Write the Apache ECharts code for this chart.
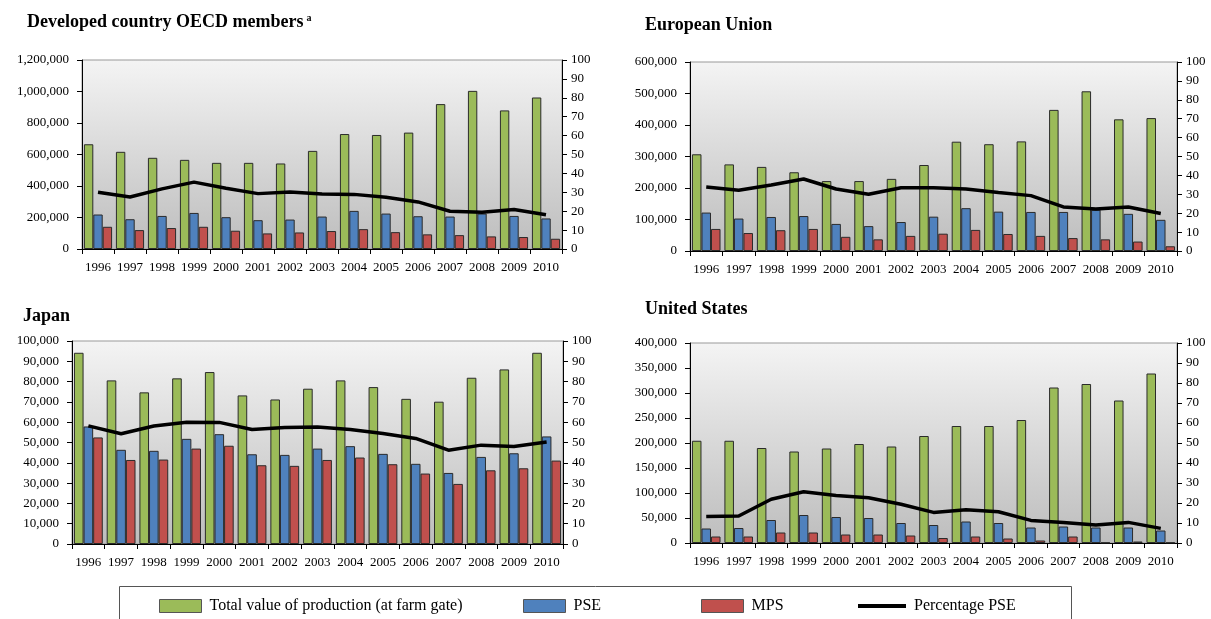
<!DOCTYPE html>
<html>
<head>
<meta charset="utf-8">
<script src="https://cdn.jsdelivr.net/npm/echarts@6/dist/echarts.min.js"></script>
<style>
html,body{margin:0;padding:0;background:#fff;}
#c{width:1211px;height:619px;}
</style>
</head>
<body>
<div id="c"></div>
<script>
const years = ['1996','1997','1998','1999','2000','2001','2002','2003','2004','2005','2006','2007','2008','2009','2010'];

const oecdTotal = [665000,617000,579000,566000,547000,547000,543000,623000,730000,724000,739000,920000,1004000,880000,962000];
const oecdPSE   = [219000,189000,210000,229000,202000,183000,187000,206000,242000,225000,208000,206000,225000,210000,194000];
const oecdMPS   = [141000,120000,133000,141000,116000,99000,105000,114000,126000,107000,93000,88000,80000,76000,65000];
const oecdPct   = [30.0,27.5,31.8,35.4,32.1,29.3,30.2,29.1,28.9,27.4,24.9,20.0,19.5,20.9,18.1];

const euTotal = [307000,275000,267000,250000,222000,222000,229000,273000,347000,339000,348000,448000,507000,418000,422000];
const euPSE   = [122000,103000,108000,111000,86000,79000,92000,109000,136000,125000,124000,124000,131000,118000,99000];
const euMPS   = [70000,57000,66000,70000,45000,37000,48000,55000,67000,54000,48000,41000,37000,30000,15000];
const euPct   = [33.9,32.1,34.9,38.1,32.8,30.0,33.5,33.5,32.8,31.0,29.3,23.3,22.2,23.3,19.8];

const jpTotal = [94200,80600,74700,81600,84700,73200,71200,76500,80600,77300,71500,70100,81900,86000,94200];
const jpPSE   = [57900,46400,45900,51800,54100,44200,43900,47000,48200,44400,39500,35000,42900,44700,53000];
const jpMPS   = [52500,41400,41600,47000,48400,38800,38500,41400,42600,39300,34700,29600,36300,37300,41100];
const jpPct   = [58.2,54.3,58.1,60.0,59.9,56.4,57.4,57.6,56.4,54.4,52.0,46.2,48.7,48.0,50.2];

const usTotal = [204500,204500,190000,183000,189000,198000,193000,214000,234000,234000,246000,311000,318000,285000,339000];
const usPSE   = [29000,30000,46000,56000,52000,50000,40000,36000,43000,40000,31000,33000,31000,31000,25000];
const usMPS   = [13000,13000,21000,21000,17000,17000,15000,10000,13000,9000,5000,13000,1000,3000,1000];
const usPct   = [13.3,13.5,21.9,25.6,23.8,22.6,19.4,15.3,16.6,15.6,11.3,10.3,9.0,10.3,7.3];

const titles = ['Developed country OECD members', 'European Union', 'Japan', 'United States'];
const leftMax = [1200000, 600000, 100000, 400000];
const leftInterval = [200000, 100000, 10000, 50000];
const seriesNames = ['Total value of production (at farm gate)', 'PSE', 'MPS', 'Percentage PSE'];

const panels = [
  {total: oecdTotal, pse: oecdPSE, mps: oecdMPS, pct: oecdPct},
  {total: euTotal, pse: euPSE, mps: euMPS, pct: euPct},
  {total: jpTotal, pse: jpPSE, mps: jpMPS, pct: jpPct},
  {total: usTotal, pse: usPSE, mps: usMPS, pct: usPct}
];

const gridPos = [
  {left: 82, top: 60, width: 480, height: 189},
  {left: 690, top: 62, width: 487, height: 189},
  {left: 72, top: 341, width: 491, height: 203},
  {left: 690, top: 343, width: 487, height: 200}
];
const titlePos = [
  {left: 22, top: 8},
  {left: 640, top: 11},
  {left: 18, top: 302},
  {left: 640, top: 295}
];

const FONT = '"Liberation Serif", "Times New Roman", serif';
const colors = {green: '#9BBB59', blue: '#4F81BD', red: '#C0504D'};
const bgGrad = {type: 'linear', x: 0, y: 0, x2: 0, y2: 1, colorStops: [{offset: 0, color: '#f4f4f4'}, {offset: 1, color: '#bdbdbd'}]};

const fmt = v => Number(v).toLocaleString('en-US');

const grid = [], xAxis = [], yAxis = [], series = [], title = [];
panels.forEach((p, i) => {
  grid.push(Object.assign({show: true, backgroundColor: bgGrad, borderColor: '#999', borderWidth: 1, containLabel: false}, gridPos[i]));
  title.push(Object.assign({
    text: titles[i] + (i === 0 ? '{sup|a}' : ''),
    textStyle: {fontFamily: FONT, fontWeight: 'bold', fontSize: 18, color: '#000',
      rich: {sup: {fontFamily: FONT, fontWeight: 'bold', fontSize: 10, verticalAlign: 'top', padding: [0, 0, 8, 3], color: '#000'}}}
  }, titlePos[i]));
  xAxis.push({
    type: 'category', gridIndex: i, data: years, boundaryGap: true,
    axisLine: {lineStyle: {color: '#000', width: 1}},
    axisTick: {show: true, interval: 0, length: 5, lineStyle: {color: '#000'}},
    axisLabel: {interval: 0, color: '#000', fontFamily: FONT, fontSize: 13, margin: 12}
  });
  yAxis.push({
    type: 'value', gridIndex: i, position: 'left', min: 0, max: leftMax[i], interval: leftInterval[i],
    axisLine: {show: true, lineStyle: {color: '#000'}},
    axisTick: {show: true, length: 5, lineStyle: {color: '#000'}},
    splitLine: {show: false},
    axisLabel: {color: '#000', fontFamily: FONT, fontSize: 13, margin: 13, formatter: fmt}
  });
  yAxis.push({
    type: 'value', gridIndex: i, position: 'right', min: 0, max: 100, interval: 10,
    axisLine: {show: true, lineStyle: {color: '#000'}},
    axisTick: {show: true, length: 5, lineStyle: {color: '#000'}},
    splitLine: {show: false},
    axisLabel: {color: '#000', fontFamily: FONT, fontSize: 13, margin: 9}
  });
  const barCommon = {type: 'bar', xAxisIndex: i, yAxisIndex: 2 * i, barGap: '0%', barCategoryGap: '12%'};
  series.push(Object.assign({name: seriesNames[0], data: p.total, itemStyle: {color: colors.green, borderColor: '#2b2b2b', borderWidth: 1}}, barCommon));
  series.push(Object.assign({name: seriesNames[1], data: p.pse, itemStyle: {color: colors.blue, borderColor: '#2b2b2b', borderWidth: 1}}, barCommon));
  series.push(Object.assign({name: seriesNames[2], data: p.mps, itemStyle: {color: colors.red, borderColor: '#2b2b2b', borderWidth: 1}}, barCommon));
  series.push({name: seriesNames[3], type: 'line', xAxisIndex: i, yAxisIndex: 2 * i + 1, data: p.pct,
    symbol: 'none', lineStyle: {color: '#000', width: 3.5}, itemStyle: {color: '#000'}, z: 5});
});

const legendPos = [
  {left: 159, icon: 'rect', h: 13, w: 42, color: colors.green},
  {left: 523, icon: 'rect', h: 13, w: 42, color: colors.blue},
  {left: 701, icon: 'rect', h: 13, w: 42, color: colors.red},
  {left: 858, icon: 'rect', h: 4, w: 48, color: '#000'}
];
const legend = legendPos.map((l, k) => ({
  left: l.left, top: 598, orient: 'horizontal', padding: 0,
  itemWidth: l.w, itemHeight: l.h, selectedMode: false,
  data: [{name: seriesNames[k], icon: l.icon, itemStyle: {color: l.color, borderColor: k < 3 ? '#555' : '#000', borderWidth: k < 3 ? 1 : 0}}],
  textStyle: {fontFamily: FONT, fontSize: 16, color: '#000', padding: [0, 0, 0, 3]}
}));

const chart = echarts.init(document.getElementById('c'), null, {renderer: 'canvas'});
chart.setOption({
  animation: false,
  backgroundColor: '#fff',
  title, grid, xAxis, yAxis, series, legend,
  graphic: [{type: 'rect', left: 117, top: 584, shape: {width: 952, height: 45}, style: {fill: 'none', stroke: '#555', lineWidth: 1}, z: -1}]
});
</script>
</body>
</html>
